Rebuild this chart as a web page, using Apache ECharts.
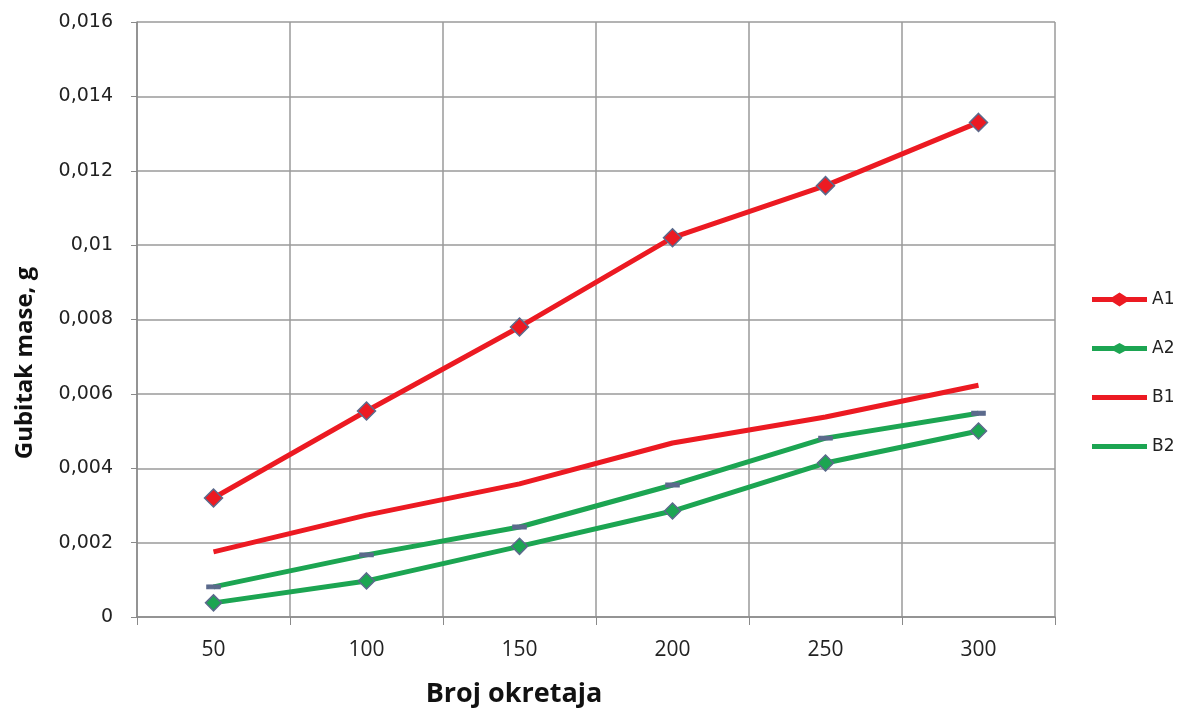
<!DOCTYPE html>
<html>
<head>
<meta charset="utf-8">
<script src="https://cdn.jsdelivr.net/npm/echarts@6/dist/echarts.min.js"></script>
<style>
  html, body { margin: 0; padding: 0; background: #fff; }
  #chart { width: 1185px; height: 711px; }
</style>
</head>
<body>
<div id="chart"></div>
<script>
// podaci
const okretaji = ['50', '100', '150', '200', '250', '300']
const A1 = [0.0032, 0.00554, 0.0078, 0.0102, 0.0116, 0.0133]
const A2 = [0.00038, 0.00097, 0.0019, 0.00285, 0.00414, 0.005]
const B1 = [0.00175, 0.00274, 0.00358, 0.00468, 0.00538, 0.00623]
const B2 = [0.00081, 0.00167, 0.00242, 0.00355, 0.00481, 0.00548]

const RED = '#ec1a22'
const GREEN = '#1ca552'
const MARK = '#5b6a8c'

// ikone legende: linija + (po potrebi) romb u sredini
const ICON_LINE = 'path://M0,0L0.01,0L0,0Z M0,4.5L55,4.5L55,9.5L0,9.5Z M55,14L54.99,14L55,14Z'
const ICON_A1 = 'path://M0,4.5L20.5,4.5L27.5,0L34.5,4.5L55,4.5L55,9.5L34.5,9.5L27.5,14L20.5,9.5L0,9.5Z'
const ICON_A2 = 'path://M0,0L0.01,0L0,0Z M0,4.5L22,4.5L27.5,1.5L33,4.5L55,4.5L55,9.5L33,9.5L27.5,12.5L22,9.5L0,9.5Z M55,14L54.99,14L55,14Z'

const chart = echarts.init(document.getElementById('chart'))

function line(name, data, color, symbol, symbolSize, markColor) {
  return {
    name,
    type: 'line',
    data,
    symbol,
    symbolSize,
    showSymbol: symbol !== 'none',
    lineStyle: { color, width: 5 },
    itemStyle: { color: markColor, borderColor: MARK, borderWidth: 1.5 },
    emphasis: { disabled: true },
    animation: false,
  }
}

const legendStyle = color => ({ color, borderWidth: 0 })
const titleStyle = (text, size) => ({
  text,
  fontFamily: 'Open Sans',
  fontWeight: 'bold',
  fontSize: size,
  fill: '#111',
  align: 'center',
  verticalAlign: 'middle',
})

const option = {
  backgroundColor: '#fff',
  grid: { left: 137, right: 130, top: 22, bottom: 94, outerBoundsMode: 'none', containLabel: false },
  legend: {
    orient: 'vertical',
    left: 1092,
    top: 291,
    padding: 0,
    itemWidth: 55,
    itemHeight: 14,
    itemGap: 32,
    symbolKeepAspect: false,
    textStyle: { fontFamily: 'DejaVu Sans', fontSize: 17, color: '#222' },
    data: [
      { name: 'A1', icon: ICON_A1, itemStyle: legendStyle(RED) },
      { name: 'A2', icon: ICON_A2, itemStyle: legendStyle(GREEN) },
      { name: 'B1', icon: ICON_LINE, itemStyle: legendStyle(RED) },
      { name: 'B2', icon: ICON_LINE, itemStyle: legendStyle(GREEN) },
    ],
  },
  // nazivi osi nisu centrirani na os (kao u originalu)
  graphic: [
    { type: 'text', x: 25, y: 363, rotation: Math.PI / 2, style: titleStyle('Gubitak mase, g', 24) },
    { type: 'text', x: 514, y: 694, style: titleStyle('Broj okretaja', 27) },
  ],
  xAxis: {
    type: 'category',
    data: okretaji,
    boundaryGap: true,
    axisLine: { lineStyle: { color: '#8a8a8a', width: 1.5 } },
    axisTick: { show: true, length: 8, lineStyle: { color: '#8a8a8a' } },
    axisLabel: { margin: 23, fontFamily: 'Open Sans', fontSize: 21, color: '#222' },
    splitLine: { show: true, lineStyle: { color: '#9a9a9a', width: 1.5 } },
  },
  yAxis: {
    type: 'value',
    min: 0,
    max: 0.016,
    interval: 0.002,
    axisLine: { show: true, lineStyle: { color: '#8a8a8a', width: 1.5 } },
    axisTick: { show: true, length: 6, lineStyle: { color: '#8a8a8a' } },
    axisLabel: {
      margin: 24,
      fontFamily: 'DejaVu Sans',
      fontSize: 19,
      color: '#222',
      formatter: v => String(+v.toFixed(3)).replace('.', ','),
    },
    splitLine: { show: true, lineStyle: { color: '#9a9a9a', width: 1.5 } },
  },
  series: [
    line('A1', A1, RED, 'diamond', 18, RED),
    line('A2', A2, GREEN, 'diamond', 16, GREEN),
    line('B1', B1, RED, 'none', 0, RED),
    line('B2', B2, GREEN, 'rect', [12, 4], MARK),
  ],
}

chart.setOption(option)
</script>
</body>
</html>
